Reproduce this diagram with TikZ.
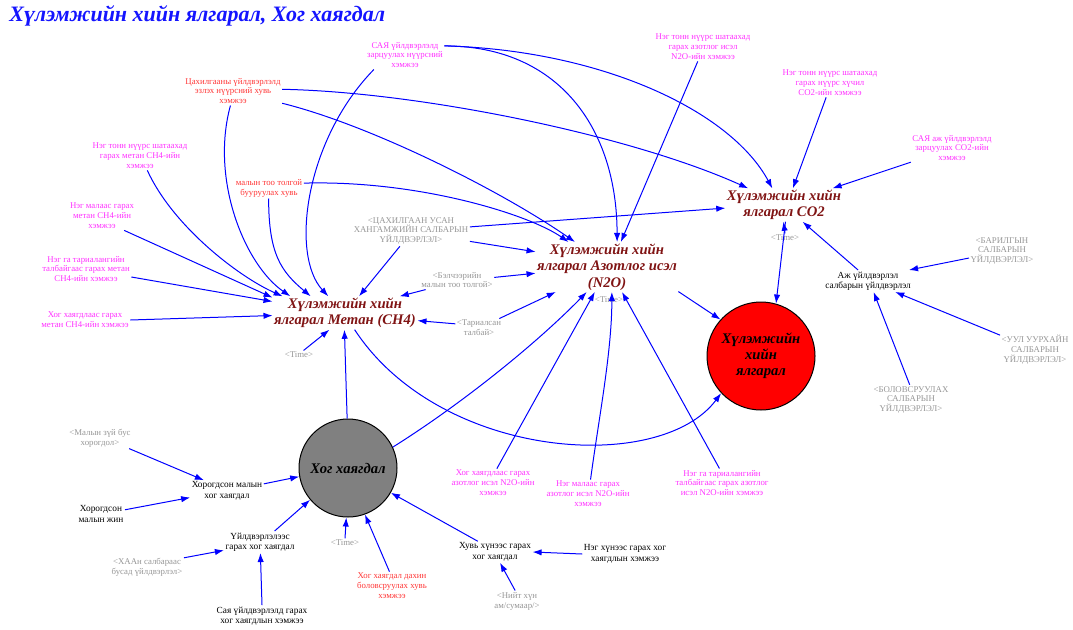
\documentclass[tikz,border=0pt]{standalone}
\usepackage{fontspec}
\setmainfont{Liberation Serif}
\usetikzlibrary{arrows.meta}
\definecolor{magc}{RGB}{255,50,255}
\definecolor{redc}{RGB}{255,55,55}
\definecolor{grayc}{RGB}{150,150,150}
\definecolor{darkredc}{RGB}{128,20,20}
\definecolor{titlec}{RGB}{20,20,255}
\definecolor{circgray}{RGB}{128,128,128}
\tikzset{
  sm/.style={font=\fontsize{6.6}{7.4}\selectfont, inner sep=1pt, align=center},
  magtxt/.style={sm, text=magc},
  redtxt/.style={sm, text=redc},
  graytxt/.style={sm, text=grayc},
  blktxt/.style={font=\fontsize{7}{7.8}\selectfont, inner sep=1pt, align=center, text=black},
  mainvar/.style={font=\fontsize{11}{12.4}\selectfont\bfseries\itshape, text=darkredc, inner sep=1pt, align=center},
  redcirc/.style={circle, draw=black, line width=0.75pt, fill=red, minimum size=81pt, inner sep=0pt, align=center, font=\fontsize{11}{12}\selectfont\bfseries\itshape},
  graycirc/.style={circle, draw=black, line width=0.75pt, fill=circgray, minimum size=73.5pt, inner sep=0pt, align=center, font=\fontsize{11}{12}\selectfont\bfseries\itshape},
  arr/.style={draw=blue, line width=0.75pt, -{Latex[length=6.8pt,width=4.8pt]}},
}
\begin{document}
\begin{tikzpicture}[x=0.75pt,y=-0.75pt]
\useasboundingbox (0,0) rectangle (1073,629);
\node[anchor=west, font=\fontsize{16.5}{18}\selectfont\bfseries\itshape, text=titlec, inner sep=0pt] (title) at (9,16) {Хүлэмжийн хийн ялгарал, Хог хаягдал};

% main variables
\node[mainvar] (ch4) at (345,313) {Хүлэмжийн хийн\\ялгарал Метан (CH4)};
\node[mainvar] (n2o) at (607,267) {Хүлэмжийн хийн\\ялгарал Азотлог исэл\\(N2O)};
\node[mainvar] (co2) at (784,205) {Хүлэмжийн хийн\\ялгарал CO2};
\node[redcirc] (emis) at (761,356) {Хүлэмжийн\\хийн\\ялгарал};
\node[graycirc] (hog) at (348,468) {Хог хаягдал};

% top
\node[magtxt] (n1) at (405,55) {САЯ үйлдвэрлэлд\\зарцуулах нүүрсний\\хэмжээ};
\node[redtxt] (n2) at (233,91) {Цахилгааны үйлдвэрлэлд\\эзлэх нүүрсний хувь\\хэмжээ};
\node[magtxt] (n3) at (703,47) {Нэг тонн нүүрс шатаахад\\гарах азотлог исэл\\N2O-ийн хэмжээ};
\node[magtxt] (n4) at (830,83) {Нэг тонн нүүрс шатаахад\\гарах нүүрс хүчил\\CO2-ийн хэмжээ};
\node[magtxt] (n5) at (952,148) {САЯ аж үйлдвэрлэлд\\зарцуулах CO2-ийн\\хэмжээ};
% left
\node[magtxt] (n6) at (140,156) {Нэг тонн нүүрс шатаахад\\гарах метан CH4-ийн\\хэмжээ};
\node[magtxt] (n7) at (102,216) {Нэг малаас гарах\\метан CH4-ийн\\хэмжээ};
\node[magtxt] (n8) at (86,269) {Нэг га тариалангийн\\талбайгаас гарах метан\\CH4-ийн хэмжээ};
\node[magtxt] (n9) at (85,320) {Хог хаягдлаас гарах\\метан CH4-ийн хэмжээ};
\node[redtxt] (n10) at (269,188) {малын тоо толгой\\бууруулах хувь};
% middle
\node[graytxt] (n11) at (411,231) {<ЦАХИЛГААН УСАН\\ХАНГАМЖИЙН САЛБАРЫН\\ҮЙЛДВЭРЛЭЛ>};
\node[graytxt] (n12) at (457,280) {<Бэлчээрийн\\малын тоо толгой>};
\node[graytxt] (n13) at (479,328) {<Тариалсан\\талбай>};
\node[graytxt] (t1) at (299,355) {<Time>};
\node[graytxt] (t2) at (609,300) {<Time>};
\node[graytxt] (t3) at (785,238) {<Time>};
% right
\node[blktxt] (n17) at (868,281) {Аж үйлдвэрлэл\\салбарын үйлдвэрлэл};
\node[graytxt] (n18) at (1002,251) {<БАРИЛГЫН\\САЛБАРЫН\\ҮЙЛДВЭРЛЭЛ>};
\node[graytxt] (n19) at (1035,350) {<УУЛ УУРХАЙН\\САЛБАРЫН\\ҮЙЛДВЭРЛЭЛ>};
\node[graytxt] (n20) at (911,400) {<БОЛОВСРУУЛАХ\\САЛБАРЫН\\ҮЙЛДВЭРЛЭЛ>};
% bottom
\node[graytxt] (n21) at (100,438) {<Малын зүй бус\\хорогдол>};
\node[blktxt] (n22) at (227,491) {Хорогдсон малын\\хог хаягдал};
\node[blktxt] (n23) at (101,514) {Хорогдсон\\малын жин};
\node[blktxt] (n24) at (260,542) {Үйлдвэрлэлээс\\гарах хог хаягдал};
\node[graytxt] (n25) at (147,567) {<ХААн салбараас\\бусад үйлдвэрлэл>};
\node[blktxt] (n26) at (262,616) {Сая үйлдвэрлэлд гарах\\хог хаягдлын хэмжээ};
\node[graytxt] (t4) at (345,543) {<Time>};
\node[redtxt] (n28) at (392,586) {Хог хаягдал дахин\\боловсруулах хувь\\хэмжээ};
\node[blktxt] (n29) at (495,552) {Хувь хүнээс гарах\\хог хаягдал};
\node[blktxt] (n30) at (625,554) {Нэг хүнээс гарах хог\\хаягдлын хэмжээ};
\node[graytxt] (n31) at (517,601) {<Нийт хүн\\ам/сумаар/>};
\node[magtxt] (n32) at (493,483) {Хог хаягдлаас гарах\\азотлог исэл N2O-ийн\\хэмжээ};
\node[magtxt] (n33) at (588,494) {Нэг малаас гарах\\азотлог исэл N2O-ийн\\хэмжээ};
\node[magtxt] (n34) at (722,483) {Нэг га тариалангийн\\талбайгаас гарах азотлог\\исэл N2O-ийн хэмжээ};

% to CH4
\draw[arr] (n6.-63) .. controls +(25,55) and +(-45,-20) .. (ch4.165);
\draw[arr] (n7.-33) -- (ch4.168);
\draw[arr] (n8.-10) -- (ch4.171);
\draw[arr] (n9.east) -- (ch4.182);
\draw[arr] (n2.260) .. controls (210,180) and (245,265) .. (ch4.163);
\draw[arr] (n1.205) .. controls (305,140) and (290,255) .. (ch4.135);
\draw[arr] (n10.268) .. controls +(0,55) and +(-30,-25) .. (ch4.154);
\draw[arr] (n11.234) -- (ch4.50);
\draw[arr] (n12.197) -- (ch4.17);
\draw[arr] (n13.170) -- (ch4.-6);
\draw[arr] (t1.45) -- (ch4.227);
\draw[arr] (hog.91) -- (ch4.268);
% to N2O
\draw[arr] (n10.8) .. controls (420,180) and (530,215) .. (n2o.147);
\draw[arr] (n2.-14) .. controls (370,125) and (500,190) .. (n2o.142);
\draw[arr] (n1.13) .. controls (560,46) and (617,130) .. (n2o.68);
\draw[arr] (n3.-110) -- (n2o.61);
\draw[arr] (n11.-10) -- (n2o.168);
\draw[arr] (n12.4) -- (n2o.185);
\draw[arr] (n13.25) -- (n2o.206);
\draw[arr] (hog.25) .. controls (460,405) and (535,345) .. (n2o.231);
\draw[arr] (n32.75) -- (n2o.244);
\draw[arr] (n33.80) .. controls +(8,-60) and +(0,60) .. (n2o.281);
\draw[arr] (n34.100) -- (n2o.301);
% to CO2
\draw[arr] (n2.2) .. controls (420,92) and (630,135) .. (co2.155);
\draw[arr] (n1.13) .. controls (600,50) and (730,110) .. (co2.125);
\draw[arr] (n4.-105) -- (co2.62);
\draw[arr] (n5.199) -- (co2.19);
\draw[arr] (n11.4) -- (co2.183);
\draw[arr] (n17.132) -- (co2.-42);
\draw[arr] (t3.north) -- (co2.268);
% to total emission
\draw[arr] (ch4.-60) .. controls (440,460) and (660,475) .. (emis.223);
\draw[arr] (n2o.-19) -- (emis.138);
\draw[arr] (co2.275) -- (emis.74);
% industry
\draw[arr] (n18.192) -- (n17.15);
\draw[arr] (n19.157) -- (n17.-22);
\draw[arr] (n20.95) -- (n17.-63);
% waste
\draw[arr] (n21.-20) -- (n22.155);
\draw[arr] (n23.10) -- (n22.190);
\draw[arr] (n22.11) -- (hog.190);
\draw[arr] (n24.37) -- (hog.220);
\draw[arr] (n25.14) -- (n24.193);
\draw[arr] (n26.north) -- (n24.272);
\draw[arr] (t4.north) -- (hog.268);
\draw[arr] (n28.100) -- (hog.290);
\draw[arr] (n29.148) -- (hog.330);
\draw[arr] (n30.west) -- (n29.east);
\draw[arr] (n31.100) -- (n29.-65);
\end{tikzpicture}
\end{document}
